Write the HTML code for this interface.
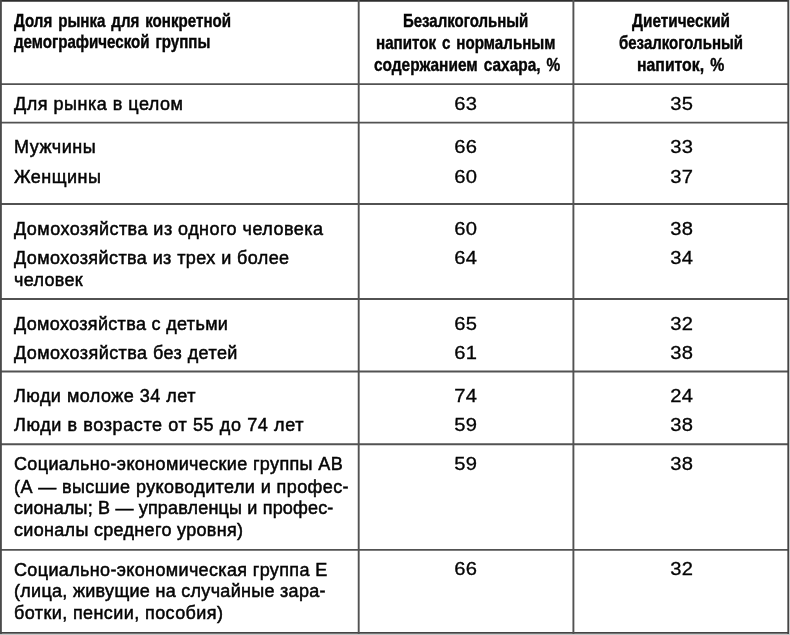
<!DOCTYPE html>
<html><head><meta charset="utf-8">
<style>
html,body{margin:0;padding:0;background:#fff;}
body{width:790px;height:635px;position:relative;overflow:hidden;font-family:"Liberation Sans",sans-serif;color:#050505;}
#w{position:absolute;left:0;top:0;width:790px;height:635px;transform:translateZ(0);filter:blur(0.35px);}
.h{position:absolute;background:#505050;}
.t{position:absolute;white-space:nowrap;font-size:18px;line-height:22px;height:22px;-webkit-text-stroke:0.5px #050505;}
.b{position:absolute;white-space:nowrap;font-size:17.7px;line-height:22px;height:22px;font-weight:bold;-webkit-text-stroke:0.4px #050505;}
.sx{display:inline-block;transform-origin:0 0;}
</style></head><body><div id="w">
<svg style="position:absolute;left:0;top:0" width="790" height="635" viewBox="0 0 790 635"><g><line x1="0" y1="0.9" x2="789" y2="0.9" stroke="#2e2e2e" stroke-width="1.9"/><line x1="0" y1="84.1" x2="789" y2="84.1" stroke="#525252" stroke-width="1.9"/><line x1="0" y1="122.6" x2="789" y2="122.6" stroke="#525252" stroke-width="1.9"/><line x1="0" y1="204.0" x2="789" y2="204.0" stroke="#525252" stroke-width="1.9"/><line x1="0" y1="299.0" x2="789" y2="299.0" stroke="#525252" stroke-width="1.9"/><line x1="0" y1="371.5" x2="789" y2="371.5" stroke="#525252" stroke-width="1.9"/><line x1="0" y1="444.2" x2="789" y2="444.2" stroke="#525252" stroke-width="1.9"/><line x1="0" y1="549.9" x2="789" y2="549.9" stroke="#525252" stroke-width="1.9"/><line x1="0" y1="632.9" x2="789" y2="632.9" stroke="#444" stroke-width="1.8"/><line x1="0.9" y1="0" x2="0.9" y2="634" stroke="#4a4a4a" stroke-width="1.9"/><line x1="358.7" y1="0" x2="358.7" y2="634" stroke="#525252" stroke-width="1.9"/><line x1="573.4" y1="0" x2="573.4" y2="634" stroke="#525252" stroke-width="1.9"/><line x1="788.2" y1="0" x2="788.2" y2="634" stroke="#444" stroke-width="1.7"/></g></svg>
<div style="position:absolute;background:#c8c8c8;left:789px;top:0px;width:1px;height:635px"></div>
<div style="position:absolute;background:#c8c8c8;left:0px;top:634px;width:790px;height:1px"></div>
<div class="t" style="left:14px;top:92.76px;letter-spacing:0.508px">Для рынка в целом</div>
<div class="t" style="left:14px;top:136.26px;letter-spacing:0.537px">Мужчины</div>
<div class="t" style="left:14px;top:165.76px;letter-spacing:0.470px">Женщины</div>
<div class="t" style="left:14px;top:218.46px;letter-spacing:0.464px">Домохозяйства из одного человека</div>
<div class="t" style="left:14px;top:246.96px;letter-spacing:0.413px">Домохозяйства из трех и более</div>
<div class="t" style="left:14px;top:269.26px;letter-spacing:0.303px">человек</div>
<div class="t" style="left:14px;top:312.76px;letter-spacing:0.337px">Домохозяйства с детьми</div>
<div class="t" style="left:14px;top:341.66px;letter-spacing:0.434px">Домохозяйства без детей</div>
<div class="t" style="left:14px;top:385.36px;letter-spacing:0.482px">Люди моложе 34 лет</div>
<div class="t" style="left:14px;top:414.36px;letter-spacing:0.610px">Люди в возрасте от 55 до 74 лет</div>
<div class="t" style="left:14px;top:453.46px;letter-spacing:0.364px">Социально-экономические группы АВ</div>
<div class="t" style="left:14px;top:475.56px;letter-spacing:0.409px">(А — высшие руководители и профес-</div>
<div class="t" style="left:14px;top:497.36px;letter-spacing:0.176px">сионалы; В — управленцы и профес-</div>
<div class="t" style="left:14px;top:518.76px;letter-spacing:0.313px">сионалы среднего уровня)</div>
<div class="t" style="left:14px;top:558.96px;letter-spacing:0.354px">Социально-экономическая группа Е</div>
<div class="t" style="left:14px;top:580.26px;letter-spacing:0.295px">(лица, живущие на случайные зара-</div>
<div class="t" style="left:14px;top:602.46px;letter-spacing:0.406px">ботки, пенсии, пособия)</div>
<div class="t" style="left:415.5px;width:100px;text-align:center;top:92.56px;letter-spacing:0.400px;text-indent:0.400px;-webkit-text-stroke-width:0.3px"><span class="sx" style="transform-origin:50% 0;transform:scaleX(1.12)">63</span></div>
<div class="t" style="left:631.1px;width:100px;text-align:center;top:92.56px;letter-spacing:0.400px;text-indent:0.400px;-webkit-text-stroke-width:0.3px"><span class="sx" style="transform-origin:50% 0;transform:scaleX(1.12)">35</span></div>
<div class="t" style="left:415.5px;width:100px;text-align:center;top:136.06px;letter-spacing:0.400px;text-indent:0.400px;-webkit-text-stroke-width:0.3px"><span class="sx" style="transform-origin:50% 0;transform:scaleX(1.12)">66</span></div>
<div class="t" style="left:631.1px;width:100px;text-align:center;top:136.06px;letter-spacing:0.400px;text-indent:0.400px;-webkit-text-stroke-width:0.3px"><span class="sx" style="transform-origin:50% 0;transform:scaleX(1.12)">33</span></div>
<div class="t" style="left:415.5px;width:100px;text-align:center;top:165.56px;letter-spacing:0.400px;text-indent:0.400px;-webkit-text-stroke-width:0.3px"><span class="sx" style="transform-origin:50% 0;transform:scaleX(1.12)">60</span></div>
<div class="t" style="left:631.1px;width:100px;text-align:center;top:165.56px;letter-spacing:0.400px;text-indent:0.400px;-webkit-text-stroke-width:0.3px"><span class="sx" style="transform-origin:50% 0;transform:scaleX(1.12)">37</span></div>
<div class="t" style="left:415.5px;width:100px;text-align:center;top:218.26px;letter-spacing:0.400px;text-indent:0.400px;-webkit-text-stroke-width:0.3px"><span class="sx" style="transform-origin:50% 0;transform:scaleX(1.12)">60</span></div>
<div class="t" style="left:631.1px;width:100px;text-align:center;top:218.26px;letter-spacing:0.400px;text-indent:0.400px;-webkit-text-stroke-width:0.3px"><span class="sx" style="transform-origin:50% 0;transform:scaleX(1.12)">38</span></div>
<div class="t" style="left:415.5px;width:100px;text-align:center;top:246.76px;letter-spacing:0.400px;text-indent:0.400px;-webkit-text-stroke-width:0.3px"><span class="sx" style="transform-origin:50% 0;transform:scaleX(1.12)">64</span></div>
<div class="t" style="left:631.1px;width:100px;text-align:center;top:246.76px;letter-spacing:0.400px;text-indent:0.400px;-webkit-text-stroke-width:0.3px"><span class="sx" style="transform-origin:50% 0;transform:scaleX(1.12)">34</span></div>
<div class="t" style="left:415.5px;width:100px;text-align:center;top:312.56px;letter-spacing:0.400px;text-indent:0.400px;-webkit-text-stroke-width:0.3px"><span class="sx" style="transform-origin:50% 0;transform:scaleX(1.12)">65</span></div>
<div class="t" style="left:631.1px;width:100px;text-align:center;top:312.56px;letter-spacing:0.400px;text-indent:0.400px;-webkit-text-stroke-width:0.3px"><span class="sx" style="transform-origin:50% 0;transform:scaleX(1.12)">32</span></div>
<div class="t" style="left:415.5px;width:100px;text-align:center;top:342.06px;letter-spacing:0.400px;text-indent:0.400px;-webkit-text-stroke-width:0.3px"><span class="sx" style="transform-origin:50% 0;transform:scaleX(1.12)">61</span></div>
<div class="t" style="left:631.1px;width:100px;text-align:center;top:342.06px;letter-spacing:0.400px;text-indent:0.400px;-webkit-text-stroke-width:0.3px"><span class="sx" style="transform-origin:50% 0;transform:scaleX(1.12)">38</span></div>
<div class="t" style="left:415.5px;width:100px;text-align:center;top:385.16px;letter-spacing:0.400px;text-indent:0.400px;-webkit-text-stroke-width:0.3px"><span class="sx" style="transform-origin:50% 0;transform:scaleX(1.12)">74</span></div>
<div class="t" style="left:631.1px;width:100px;text-align:center;top:385.16px;letter-spacing:0.400px;text-indent:0.400px;-webkit-text-stroke-width:0.3px"><span class="sx" style="transform-origin:50% 0;transform:scaleX(1.12)">24</span></div>
<div class="t" style="left:415.5px;width:100px;text-align:center;top:414.16px;letter-spacing:0.400px;text-indent:0.400px;-webkit-text-stroke-width:0.3px"><span class="sx" style="transform-origin:50% 0;transform:scaleX(1.12)">59</span></div>
<div class="t" style="left:631.1px;width:100px;text-align:center;top:414.16px;letter-spacing:0.400px;text-indent:0.400px;-webkit-text-stroke-width:0.3px"><span class="sx" style="transform-origin:50% 0;transform:scaleX(1.12)">38</span></div>
<div class="t" style="left:415.5px;width:100px;text-align:center;top:453.26px;letter-spacing:0.400px;text-indent:0.400px;-webkit-text-stroke-width:0.3px"><span class="sx" style="transform-origin:50% 0;transform:scaleX(1.12)">59</span></div>
<div class="t" style="left:631.1px;width:100px;text-align:center;top:453.26px;letter-spacing:0.400px;text-indent:0.400px;-webkit-text-stroke-width:0.3px"><span class="sx" style="transform-origin:50% 0;transform:scaleX(1.12)">38</span></div>
<div class="t" style="left:415.5px;width:100px;text-align:center;top:558.06px;letter-spacing:0.400px;text-indent:0.400px;-webkit-text-stroke-width:0.3px"><span class="sx" style="transform-origin:50% 0;transform:scaleX(1.12)">66</span></div>
<div class="t" style="left:631.1px;width:100px;text-align:center;top:558.06px;letter-spacing:0.400px;text-indent:0.400px;-webkit-text-stroke-width:0.3px"><span class="sx" style="transform-origin:50% 0;transform:scaleX(1.12)">32</span></div>
<div class="b" style="left:14.2px;top:9.56px"><span class="sx" style="word-spacing:2px;transform:scaleX(0.8547)">Доля рынка для конкретной</span></div>
<div class="b" style="left:13.7px;top:30.76px"><span class="sx" style="word-spacing:2px;transform:scaleX(0.8534)">демографической группы</span></div>
<div class="b" style="left:403.43px;top:9.56px"><span class="sx" style="word-spacing:2px;transform:scaleX(0.8474)">Безалкогольный</span></div>
<div class="b" style="left:376.23px;top:31.76px"><span class="sx" style="word-spacing:2px;transform:scaleX(0.8565)">напиток с нормальным</span></div>
<div class="b" style="left:373.61px;top:54.26px"><span class="sx" style="word-spacing:2px;transform:scaleX(0.8723)">содержанием сахара, %</span></div>
<div class="b" style="left:631.6px;top:9.56px"><span class="sx" style="word-spacing:2px;transform:scaleX(0.8683)">Диетический</span></div>
<div class="b" style="left:618.59px;top:31.76px"><span class="sx" style="word-spacing:2px;transform:scaleX(0.8488)">безалкогольный</span></div>
<div class="b" style="left:636.58px;top:54.26px"><span class="sx" style="word-spacing:2px;transform:scaleX(0.8934)">напиток, %</span></div>
</div></body></html>
